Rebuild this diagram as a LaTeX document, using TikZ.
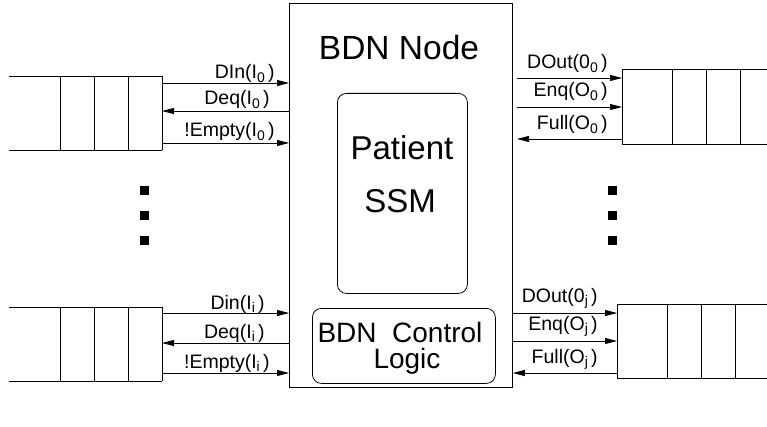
\documentclass[tikz,border=0pt]{standalone}
\usepackage{fontspec}
\setmainfont{Liberation Sans}
\usetikzlibrary{arrows.meta}
\newcommand\sbs[1]{\raisebox{-0.35ex}{\fontsize{14}{14}\selectfont #1}}
\begin{document}
\begin{tikzpicture}[x=1pt,y=-1pt,
  line width=0.8pt,
  sig/.style={-{Triangle[length=12pt,width=6pt]}, line width=0.8pt},
  lab/.style={font=\fontsize{19.5}{22}\selectfont, inner sep=0pt, anchor=base east},
  dot/.style={fill=black, minimum size=9pt, inner sep=0pt, draw=none},
  rbox/.style={draw, rounded corners=9pt, anchor=north west, inner sep=0pt}]
\useasboundingbox (0,0) rectangle (767,427);

% main box
\node[draw, anchor=north west, minimum width=223pt, minimum height=384pt, inner sep=0pt] (bdn) at (289,3) {};
\node[anchor=base, inner sep=0pt, font=\fontsize{33.5}{36}\selectfont] (title) at (399,60) {BDN Node};
\node[rbox, minimum width=130pt, minimum height=200pt] (ssm) at (337,93) {};
\node[anchor=base, inner sep=0pt, font=\fontsize{33}{36}\selectfont] (pat) at (402,160) {Patient};
\node[anchor=base, inner sep=0pt, font=\fontsize{33}{36}\selectfont] (ssmt) at (400,213) {SSM};
\node[rbox, minimum width=183pt, minimum height=75pt] (ctl) at (312,308) {};
\node[anchor=base, inner sep=0pt, font=\fontsize{28}{30}\selectfont] (ctl1) at (400,342) {BDN\ \ Control};
\node[anchor=base, inner sep=0pt, font=\fontsize{28}{30}\selectfont] (ctl2) at (407,368) {Logic};

% left queues
\foreach \t/\b in {76/150, 307/381}{
  \draw (9,\t) -- (162,\t) (9,\b) -- (162,\b);
  \foreach \x in {60,94,128,162} \draw (\x,\t) -- (\x,\b);
}
% right queues
\draw (622,69) -- (767,69) (622,144) -- (767,144);
\foreach \x in {622,672,706,740} \draw (\x,69) -- (\x,144);
\draw (617,304) -- (767,304) (617,378) -- (767,378);
\foreach \x in {617,667,701,735} \draw (\x,304) -- (\x,378);

% left arrow endpoints
\coordinate (li1) at (162,83);
\coordinate (li2) at (162,111);
\coordinate (li3) at (162,143);
\coordinate (li4) at (162,313);
\coordinate (li5) at (162,343);
\coordinate (li6) at (162,373);
\draw[sig] (li1) -- (li1 -| bdn.west);
\draw[sig] (li2 -| bdn.west) -- (li2);
\draw[sig] (li3) -- (li3 -| bdn.west);
\draw[sig] (li4) -- (li4 -| bdn.west);
\draw[sig] (li5 -| bdn.west) -- (li5);
\draw[sig] (li6) -- (li6 -| bdn.west);

% right arrow endpoints
\coordinate (ro1s) at (517,78);  \coordinate (ro1) at (622,78);
\coordinate (ro2s) at (517,107); \coordinate (ro2) at (622,107);
\coordinate (ro3s) at (517,139); \coordinate (ro3) at (622,139);
\coordinate (ro4) at (617,313);
\coordinate (ro5) at (617,341);
\coordinate (ro6) at (617,373);
\draw[sig] (ro1s) -- (ro1);
\draw[sig] (ro2s) -- (ro2);
\draw[sig] (ro3) -- (ro3s);
\draw[sig] (ro4 -| bdn.east) -- (ro4);
\draw[sig] (ro5 -| bdn.east) -- (ro5);
\draw[sig] (ro6) -- (ro6 -| bdn.east);

% labels left
\node[lab] (l1) at (275,79) {DIn(I\sbs{0}\,)};
\node[lab] (l2) at (270,105) {Deq(I\sbs{0}\,)};
\node[lab] (l3) at (275,137) {!Empty(I\sbs{0}\,)};
\node[lab] (l4) at (265,309) {Din(I\sbs{i}\,)};
\node[lab] (l5) at (265,338) {Deq(I\sbs{i}\,)};
\node[lab] (l6) at (270,368) {!Empty(I\sbs{i}\,)};
% labels right
\node[lab] (r1) at (608,69) {DOut(0\sbs{0}\,)};
\node[lab] (r2) at (608,97) {Enq(O\sbs{0}\,)};
\node[lab] (r3) at (608,130) {Full(O\sbs{0}\,)};
\node[lab] (r4) at (598,302) {DOut(0\sbs{j}\,)};
\node[lab] (r5) at (598,330) {Enq(O\sbs{j}\,)};
\node[lab] (r6) at (598,363) {Full(O\sbs{j}\,)};

% dots
\foreach \y [count=\i] in {191,216,241}{
  \node[dot] (dl\i) at (144,\y) {};
  \node[dot] (dr\i) at (612,\y) {};
}
\end{tikzpicture}
\end{document}
